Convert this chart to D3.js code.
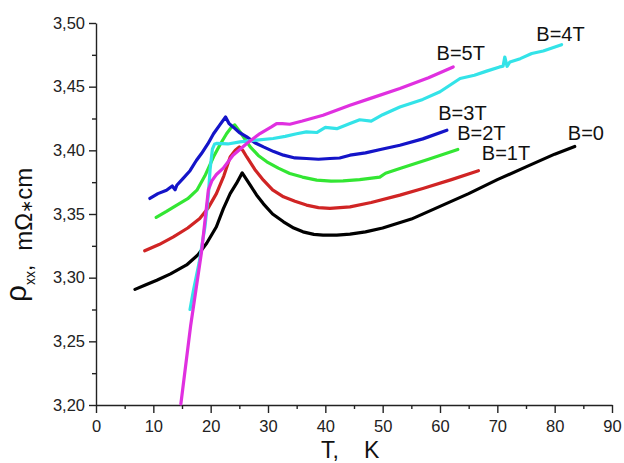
<!DOCTYPE html>
<html>
<head>
<meta charset="utf-8">
<script src="https://cdn.jsdelivr.net/npm/d3@7/dist/d3.min.js"></script>
<style>
    body { margin: 0; background: #fff; }
    svg { display: block; font-family: "Liberation Sans", Arial, sans-serif; }
    .axis path, .axis line { stroke: #222; stroke-width: 1.4px; }
    .axis text { fill: #222; font-size: 16.5px; }
</style>
</head>
<body>
<div id="chart"></div>
<script>

    // data (T in K, rho in mOhm*cm)
    var black_T = [6.8, 8.5, 10.6, 13, 15.8, 17.8, 19.3, 21.0, 22.2, 23.4, 24.5, 25.5, 26.9, 28, 29.2, 30.8, 32.7, 34.5, 36.1, 38, 39.6, 42, 44.3, 47, 50, 55, 60, 65, 70, 75, 80, 83.5];
    var black_R = [3.2908, 3.294, 3.298, 3.303, 3.310, 3.318, 3.327, 3.340, 3.354, 3.366, 3.374, 3.3823, 3.3726, 3.365, 3.358, 3.350, 3.3439, 3.339, 3.336, 3.334, 3.3334, 3.3334, 3.3342, 3.336, 3.339, 3.346, 3.356, 3.366, 3.377, 3.387, 3.397, 3.403];

    var red_T = [8.5, 11, 13.5, 16, 18.1, 19.6, 21.0, 22.3, 23.4, 24.3, 25.0, 25.6, 26.3, 27.7, 29.2, 30.8, 32.7, 34.7, 36.7, 38.8, 40.8, 44.3, 48, 53, 57, 62, 66.7];
    var red_R = [3.3211, 3.326, 3.332, 3.339, 3.3465, 3.355, 3.366, 3.380, 3.3948, 3.400, 3.4027, 3.400, 3.3948, 3.385, 3.3766, 3.369, 3.3635, 3.360, 3.357, 3.355, 3.3544, 3.3556, 3.359, 3.3648, 3.370, 3.377, 3.384];

    var green_T = [10.5, 12.3, 14.1, 16, 17.6, 19, 20.5, 21.7, 22.8, 23.6, 24.2, 25.2, 26.9, 28.3, 29.8, 31.8, 33.8, 36, 38.5, 41, 43.1, 46, 49.5, 50.5, 53, 58, 63.1];
    var green_R = [3.3473, 3.352, 3.357, 3.362, 3.3687, 3.380, 3.3949, 3.405, 3.4132, 3.418, 3.4200, 3.414, 3.4027, 3.396, 3.391, 3.386, 3.3818, 3.379, 3.3766, 3.3758, 3.376, 3.377, 3.379, 3.382, 3.3857, 3.393, 3.4007];

    var blue_T = [9.4, 10.8, 12.3, 13.3, 13.8, 14.1, 15.2, 16.4, 17.5, 18.4, 19.5, 20.5, 21.6, 22.6, 23.2, 23.9, 25, 26.3, 27.7, 29.2, 31, 32.7, 34.7, 36.7, 38.8, 40.8, 42.5, 44.3, 47, 50, 53, 57, 61.2];
    var blue_R = [3.3622, 3.366, 3.3687, 3.372, 3.369, 3.3726, 3.378, 3.384, 3.392, 3.3975, 3.405, 3.413, 3.420, 3.4262, 3.421, 3.4184, 3.414, 3.4106, 3.406, 3.4027, 3.399, 3.3962, 3.394, 3.3936, 3.393, 3.3936, 3.394, 3.3962, 3.398, 3.401, 3.404, 3.409, 3.4158];

    var cyan_T = [16.4, 17, 18, 19, 19.6, 19.9, 20.3, 20.7, 21.0, 23, 25.1, 28, 30.9, 33, 35, 36.7, 38.5, 40, 42, 44.3, 46, 48, 50, 53, 55, 57, 60, 63.5, 66, 68, 70.4, 71, 71.3, 71.7, 72.2, 74, 76, 78, 81.2];
    var cyan_R = [3.275, 3.290, 3.312, 3.340, 3.365, 3.385, 3.401, 3.405, 3.4054, 3.405, 3.4067, 3.408, 3.4093, 3.411, 3.413, 3.4145, 3.414, 3.418, 3.417, 3.421, 3.424, 3.423, 3.428, 3.434, 3.437, 3.440, 3.446, 3.4564, 3.459, 3.462, 3.4655, 3.466, 3.4733, 3.466, 3.4694, 3.472, 3.476, 3.478, 3.483];

    var magenta_T = [14.8, 16.5, 18.4, 19.6, 20.2, 21, 22.2, 23.9, 26.3, 28.6, 30.6, 31.5, 32.5, 33.8, 36, 39.6, 44.3, 48, 53, 58, 62.3];
    var magenta_R = [3.2008, 3.262, 3.320, 3.369, 3.376, 3.381, 3.386, 3.3962, 3.4054, 3.4132, 3.4184, 3.421, 3.421, 3.4205, 3.423, 3.4276, 3.4354, 3.441, 3.4485, 3.457, 3.4655];

    // curve labels, placed in data coordinates
    var labelNames = ['B=0', 'B=1T', 'B=2T', 'B=3T', 'B=4T', 'B=5T'];
    var labelT = [82.3, 67.3, 63.0, 59.7, 76.8, 59.4];
    var labelR = [3.4079, 3.3925, 3.4079, 3.4241, 3.4860, 3.4707];

    var xMajor = [0, 10, 20, 30, 40, 50, 60, 70, 80, 90];
    var xMinor = [5, 15, 25, 35, 45, 55, 65, 75, 85];
    var yMajor = [3.20, 3.25, 3.30, 3.35, 3.40, 3.45, 3.50];
    var yMinor = [3.225, 3.275, 3.325, 3.375, 3.425, 3.475];

    var series = [
        {T: black_T, R: black_R, color: '#000000'},
        {T: red_T, R: red_R, color: '#d02424'},
        {T: green_T, R: green_R, color: '#33e633'},
        {T: blue_T, R: blue_R, color: '#1414c8'},
        {T: cyan_T, R: cyan_R, color: '#33e3e8'},
        {T: magenta_T, R: magenta_R, color: '#e030e0'}
    ];

    var width = 624, height = 463;
    var margin = {top: 23, right: 12, bottom: 58, left: 96};

    var svg = d3.select('#chart')
        .append('svg')
        .attr('width', width)
        .attr('height', height);

    var x = d3.scaleLinear().domain([0, 90]).range([margin.left, width - margin.right]);
    var y = d3.scaleLinear().domain([3.20, 3.50]).range([height - margin.bottom, margin.top]);

    var commaFormat = function (d) {
        return d3.format('.2f')(d).replace('.', ',');
    };

    // minor ticks
    svg.append('g')
        .attr('class', 'axis')
        .attr('transform', 'translate(0,' + (height - margin.bottom) + ')')
        .call(d3.axisBottom(x).tickValues(xMinor).tickSize(4).tickFormat(''))
        .select('.domain').remove();

    svg.append('g')
        .attr('class', 'axis')
        .attr('transform', 'translate(' + margin.left + ',0)')
        .call(d3.axisLeft(y).tickValues(yMinor).tickSize(4).tickFormat(''))
        .select('.domain').remove();

    // major axes
    svg.append('g')
        .attr('class', 'axis')
        .attr('transform', 'translate(0,' + (height - margin.bottom) + ')')
        .call(d3.axisBottom(x).tickValues(xMajor).tickSize(8).tickSizeOuter(0).tickPadding(7).tickFormat(d3.format('d')));

    svg.append('g')
        .attr('class', 'axis')
        .attr('transform', 'translate(' + margin.left + ',0)')
        .call(d3.axisLeft(y).tickValues(yMajor).tickSize(7).tickSizeOuter(0).tickPadding(4).tickFormat(commaFormat));

    // curves
    var line = d3.line()
        .x(function (d) { return x(d[0]); })
        .y(function (d) { return y(d[1]); });

    series.forEach(function (s) {
        var pts = s.T.map(function (t, i) { return [t, s.R[i]]; });
        svg.append('path')
            .datum(pts)
            .attr('fill', 'none')
            .attr('stroke', s.color)
            .attr('stroke-width', 3.2)
            .attr('stroke-linejoin', 'round')
            .attr('stroke-linecap', 'round')
            .attr('d', line);
    });

    // labels
    svg.selectAll('.curveLabel')
        .data(labelNames)
        .enter()
        .append('text')
        .attr('class', 'curveLabel')
        .attr('x', function (d, i) { return x(labelT[i]); })
        .attr('y', function (d, i) { return y(labelR[i]); })
        .attr('font-size', '20px')
        .attr('fill', '#111')
        .text(function (d) { return d; });

    // axis titles
    var xTitle = svg.append('text')
        .attr('x', 321)
        .attr('y', 458)
        .attr('font-size', '23px')
        .attr('fill', '#111');
    xTitle.append('tspan').text('T,');
    xTitle.append('tspan').attr('dx', 25).text('K');

    var yTitle = svg.append('text')
        .attr('transform', 'rotate(-90)')
        .attr('x', -302)
        .attr('y', 32)
        .attr('fill', '#111');

    yTitle.append('tspan').attr('font-size', '30px').attr('dy', -6).text('ρ');
    yTitle.append('tspan').attr('font-size', '14px').attr('dy', 9).text('xx');
    yTitle.append('tspan').attr('font-size', '22px').attr('dy', -3).text(',');
    yTitle.append('tspan').attr('font-size', '24px').attr('dx', 14).text('mΩ');
    yTitle.append('tspan').attr('font-size', '16px').text('∗');
    yTitle.append('tspan').attr('font-size', '24px').text('cm');

</script>
</body>
</html>
